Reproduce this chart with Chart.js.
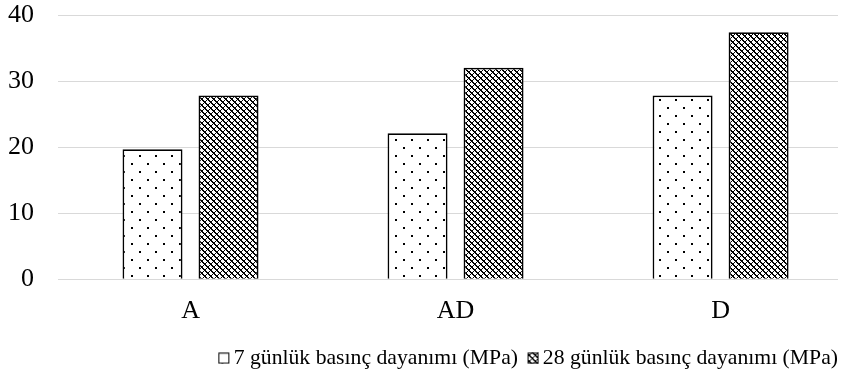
<!DOCTYPE html>
<html>
<head>
<meta charset="utf-8">
<script src="https://cdn.jsdelivr.net/npm/chart.js@4/dist/chart.umd.min.js"></script>
<style>
  html, body { margin: 0; padding: 0; background: #ffffff; }
  #wrap { width: 848px; height: 381px; position: relative; }
</style>
</head>
<body>
<div id="wrap"><canvas id="c"></canvas></div>
<script>
// Compressive strength of the three mixes
const categories = ['A', 'AD', 'D'];
const seriesNames = ['7 günlük basınç dayanımı (MPa)', '28 günlük basınç dayanımı (MPa)'];
const strength7 = [19.7, 22.1, 27.8];
const strength28 = [27.8, 32.0, 37.4];
const yTicks = [0, 10, 20, 30, 40];

// Sparse staggered dot fill
function dotPattern() {
  const c = document.createElement('canvas');
  c.width = 16; c.height = 16;
  const g = c.getContext('2d');
  g.fillStyle = '#ffffff'; g.fillRect(0, 0, 16, 16);
  g.fillStyle = '#000000';
  g.fillRect(3, 3, 2, 2);
  g.fillRect(11, 11, 2, 2);
  return g.createPattern(c, 'repeat');
}

// Fine diagonal crosshatch fill
function crosshatchPattern() {
  const n = 6;
  const c = document.createElement('canvas');
  c.width = n; c.height = n;
  const g = c.getContext('2d');
  g.fillStyle = '#ffffff'; g.fillRect(0, 0, n, n);
  g.fillStyle = '#000000';
  for (let y = 0; y < n; y++) {
    for (let x = 0; x < n; x++) {
      const d = ((x - y) % n + n) % n;
      const s = (x + y) % n;
      if (d < 2 || s < 1) g.fillRect(x, y, 1, 1);
    }
  }
  return g.createPattern(c, 'repeat');
}

// Small framed legend swatch, sitting close to its label text
function swatch(fill) {
  const c = document.createElement('canvas');
  c.width = 24; c.height = 12;
  const g = c.getContext('2d');
  g.fillStyle = fill;
  g.fillRect(8, 0.5, 11, 11);
  g.strokeStyle = '#000000';
  g.lineWidth = 1;
  g.strokeRect(8.5, 1, 10, 10);
  return c;
}

const fill7 = dotPattern();
const fill28 = crosshatchPattern();
const swatches = [swatch(fill7), swatch(fill28)];

const FONT = "'Liberation Serif', 'Times New Roman', serif";

new Chart(document.getElementById('c'), {
  type: 'bar',
  data: {
    datasets: [
      {
        label: seriesNames[0],
        data: categories.map((c, i) => ({ x: i, y: strength7[i] })),
        backgroundColor: fill7,
        borderColor: '#000000',
        borderWidth: 1.75,
        categoryPercentage: 0.5736,
        barPercentage: 0.789
      },
      {
        label: seriesNames[1],
        data: categories.map((c, i) => ({ x: i, y: strength28[i] })),
        backgroundColor: fill28,
        borderColor: '#000000',
        borderWidth: 1.75,
        categoryPercentage: 0.5736,
        barPercentage: 0.789
      }
    ]
  },
  options: {
    responsive: true,
    maintainAspectRatio: false,
    animation: false,
    layout: { padding: { top: 15, right: -3, left: 0, bottom: 2 } },
    plugins: {
      tooltip: { enabled: false },
      legend: {
        position: 'bottom',
        align: 'end',
        labels: {
          font: { family: FONT, size: 21.7 },
          color: '#000000',
          usePointStyle: true,
          boxWidth: 1,
          boxHeight: 11,
          padding: 13,
          generateLabels: (chart) => {
            const items = Chart.defaults.plugins.legend.labels.generateLabels(chart);
            items.forEach((it, i) => { it.pointStyle = swatches[i]; });
            return items;
          }
        }
      }
    },
    scales: {
      x: {
        type: 'linear',
        offset: false,
        min: -0.5,
        max: 2.443,
        afterBuildTicks: (axis) => { axis.ticks = categories.map((c, i) => ({ value: i })); },
        grid: { display: false, drawTicks: false },
        border: { display: false },
        ticks: {
          font: { family: FONT, size: 26 },
          color: '#000000',
          padding: 16,
          callback: (v) => categories[v]
        },
        afterFit: (axis) => {
          axis.height = 55;
          axis.paddingLeft = 0; axis.paddingRight = 0;
        }
      },
      y: {
        min: 0,
        max: 40,
        afterBuildTicks: (axis) => { axis.ticks = yTicks.map(v => ({ value: v })); },
        grid: { color: '#d9d9d9', lineWidth: 1, drawTicks: false },
        border: { display: false },
        ticks: { font: { family: FONT, size: 26 }, color: '#000000', padding: 24 },
        afterFit: (axis) => {
          axis.width = 58;
          axis.paddingTop = 0; axis.paddingBottom = 0;
        }
      },
      yRight: {
        position: 'right',
        display: true,
        grid: { display: false, drawTicks: false },
        border: { display: false },
        ticks: { display: false },
        afterFit: (axis) => { axis.width = 13; }
      }
    }
  }
});
</script>
</body>
</html>
